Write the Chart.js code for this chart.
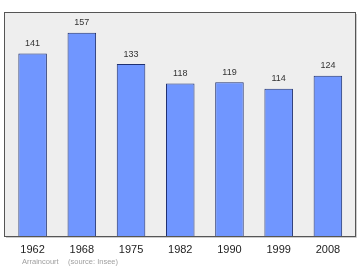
<!DOCTYPE html>
<html>
<head>
<meta charset="utf-8">
<script src="https://cdn.jsdelivr.net/npm/chart.js@4/dist/chart.umd.min.js"></script>
<style>
  html, body { margin: 0; padding: 0; background: #fff; }
  #wrap { width: 360px; height: 270px; position: relative; }
</style>
</head>
<body>
<div id="wrap"><canvas id="popChart" width="360" height="270"></canvas></div>
<script>
// population par année
var years = ['1962', '1968', '1975', '1982', '1990', '1999', '2008'];
var population = [141, 157, 133, 118, 119, 114, 124];
var commune = 'Arraincourt';
var source = '(source: Insee)';

// le cadre gris déborde un peu de la zone des catégories
var frameLeft = 4, frameRight = 356;

var plotFrame = {
    id: 'plotFrame',
    beforeDatasetsDraw: function (chart) {
        var a = chart.chartArea, ctx = chart.ctx;
        ctx.save();
        ctx.fillStyle = '#eeeeee';
        ctx.fillRect(frameLeft, a.top, frameRight - frameLeft, a.bottom - a.top);
        ctx.restore();
    },
    afterDatasetsDraw: function (chart) {
        var a = chart.chartArea, ctx = chart.ctx;
        ctx.save();
        ctx.strokeStyle = '#cccccc';
        ctx.lineWidth = 1;
        ctx.beginPath();
        ctx.moveTo(frameRight + 0.5, a.top + 2);
        ctx.lineTo(frameRight + 0.5, a.bottom + 0.5);
        ctx.lineTo(frameLeft + 2, a.bottom + 0.5);
        ctx.stroke();
        ctx.strokeStyle = '#555555';
        ctx.strokeRect(frameLeft + 0.5, a.top + 0.5, frameRight - frameLeft - 1, a.bottom - a.top - 1);

        // valeurs au-dessus des barres
        ctx.fillStyle = '#333';
        ctx.font = '9px "Liberation Sans", Arial, sans-serif';
        ctx.textAlign = 'center';
        ctx.textBaseline = 'middle';
        chart.getDatasetMeta(0).data.forEach(function (bar, i) {
            ctx.fillText(population[i], bar.x, bar.y - 10);
        });

        // source
        ctx.fillStyle = '#a0a0a0';
        ctx.font = '7.5px "Liberation Sans", Arial, sans-serif';
        ctx.textAlign = 'left';
        ctx.fillText(commune, 22, 262);
        ctx.fillText(source, 68, 262);
        ctx.restore();
    }
};

var ctx = document.getElementById('popChart').getContext('2d');
var popChart = new Chart(ctx, {
    type: 'bar',
    data: {
        labels: years,
        datasets: [{
            data: population,
            backgroundColor: '#7096ff',
            borderColor: '#1f3070',
            borderWidth: 1,
            barPercentage: 0.58,
            categoryPercentage: 1
        }]
    },
    options: {
        responsive: false,
        animation: false,
        layout: { padding: { left: 8, right: 7.5, top: 12, bottom: 0 } },
        plugins: { legend: { display: false }, tooltip: { enabled: false } },
        scales: {
            x: {
                grid: { display: false, drawTicks: false },
                border: { display: false },
                ticks: {
                    color: '#222',
                    padding: 6,
                    font: { family: '"Liberation Sans", Arial, sans-serif', size: 11 }
                },
                afterFit: function (scale) { scale.height = 33; }
            },
            y: {
                display: false,
                min: 0,
                max: 173
            }
        }
    },
    plugins: [plotFrame]
});
</script>
</body>
</html>
